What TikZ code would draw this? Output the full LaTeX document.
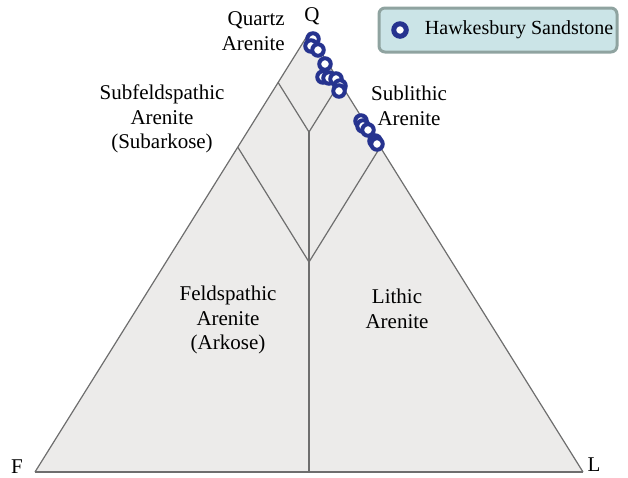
\documentclass[tikz,border=0pt]{standalone}
\usepackage{fontspec}
\setmainfont{Liberation Serif}
\usepackage{xcolor}
\usepackage{tikz}
\usetikzlibrary{arrows.meta,positioning,calc}

\definecolor{fieldgray}{HTML}{ECEBEA}
\definecolor{linegray}{HTML}{6E6E6E}
\definecolor{markblue}{HTML}{26338F}
\definecolor{legfill}{HTML}{CBE4E7}
\definecolor{legdraw}{HTML}{8FA3A0}

\begin{document}
\begin{tikzpicture}[
    x=1pt, y=-1pt,
    field/.style={draw=linegray, line width=1.2pt, line join=miter},
    bound/.style={draw=linegray, line width=1.2pt},
    label/.style={align=center, font=\fontsize{21}{24.5}\selectfont, inner sep=0pt},
    vertex/.style={font=\fontsize{21}{22}\selectfont, inner sep=0pt},
    sample/.style={draw=markblue, fill=white, line width=4pt, circle, minimum size=11.5pt, inner sep=0pt},
    legendbox/.style={draw=legdraw, fill=legfill, line width=3pt, rounded corners=6pt}
]
\useasboundingbox (0,0) rectangle (628,477);

% corners of the QFL triangle
\coordinate (F) at (35,472);
\coordinate (L) at (583,472);
\coordinate (Q) at (309,33);
\coordinate (j1) at (309,132);
\coordinate (j2) at (309,262);

\fill[fieldgray] (F) -- (L) -- (Q) -- cycle;

% field boundaries
\draw[bound] ($(Q)!0.1127!(F)$) -- (j1) -- ($(Q)!0.1127!(L)$);
\draw[bound] ($(Q)!0.26!(F)$) -- (j2) -- ($(Q)!0.26!(L)$);
\draw[bound, line width=1.8pt] (j1) -- (309,472) coordinate (base);
\draw[field] (L) -- (Q) -- (F);
\draw[bound, line width=1.8pt] (F) -- (L);

% vertex and field labels
\node[vertex] (q) at (312,16) {Q};
\node[vertex, anchor=south] (f) at (17,474) {F};
\node[vertex] (l) at (594,465) {L};
\node[label, align=right, anchor=east] (qa) at (285,31) {Quartz\\Arenite};
\node[label] (sfa) at (162,119) {Subfeldspathic\\Arenite\\(Subarkose)};
\node[label] (sla) at (409,106) {Sublithic\\Arenite};
\node[label] (fa) at (228,320) {Feldspathic\\Arenite\\(Arkose)};
\node[label] (la) at (397,309) {Lithic\\Arenite};

% samples
\foreach \px/\py [count=\i] in {313/39, 311/46, 318/50, 325/64, 323/77, 329/78, 336/79, 340/86, 339/91,
                                  361/121, 363/126, 368/130, 375/141, 377/144}
  \node[sample] (s\i) at (\px,\py) {};

% legend
\draw[legendbox] (379,8) rectangle (617,52);
\node[sample, minimum size=12.5pt, line width=5pt] (key) at (400,30) {};
\node[right=16pt of key, font=\fontsize{20}{22}\selectfont, inner sep=0pt] (keytext) {Hawkesbury Sandstone};
\end{tikzpicture}
\end{document}
